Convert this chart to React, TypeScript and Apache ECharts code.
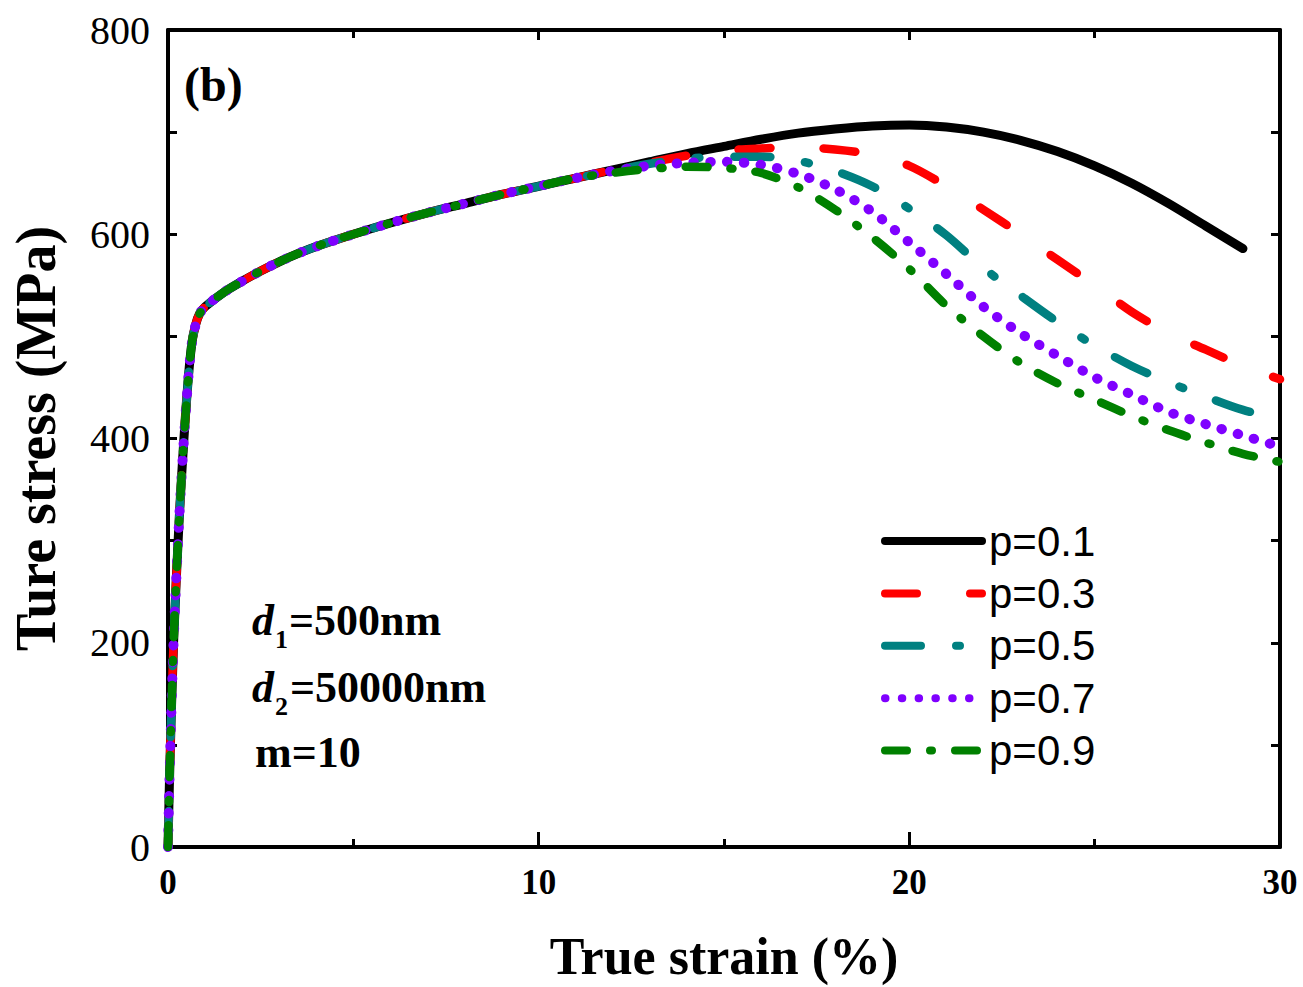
import { useEffect, useRef } from "react";
import * as echarts from "echarts";

// Shared elastic / early hardening part (strain %, stress MPa)
const strainCommon = [0, 0.05, 0.15, 0.3, 0.43, 0.55, 0.65, 0.75, 0.85, 1, 1.5, 2, 2.5, 3, 3.5, 4, 5, 6, 7, 8, 9, 10, 11];
const stressCommon = [0, 80, 200, 320, 400, 460, 495, 512, 522, 529, 543, 554, 564, 573, 581, 588, 600, 611, 621, 630, 639, 647, 655];

// Tails after 11 %
const strainTailP01 = [12, 13, 14, 15, 16, 17, 18, 19, 20, 21, 22, 23, 24, 25, 26, 27, 28, 29];
const stressTailP01 = [663, 671, 679, 686, 693, 699, 703, 706, 707, 705, 700, 692, 681, 667, 650, 630, 608, 586];

const strainTail = [12, 13, 14, 15, 16, 17, 18, 19, 20, 21, 22, 23, 24, 25, 26, 27, 28, 29, 30];
const stressTailP03 = [663, 670, 677, 682, 684, 685, 683, 678, 667, 647, 624, 600, 575, 550, 524, 503, 487, 471, 458];
const stressTailP05 = [662, 669, 674, 676, 676, 672, 662, 647, 625, 599, 567, 540, 514, 491, 471, 455, 441, 428, 419];
const stressTailP07 = [662, 667, 670, 671, 668, 659, 644, 622, 592, 561, 529, 503, 481, 460, 443, 426, 414, 403, 392];
const stressTailP09 = [660, 664, 666, 665, 660, 646, 624, 597, 566, 530, 500, 474, 454, 438, 422, 408, 396, 385, 377];

const seriesNames = ["p=0.1", "p=0.3", "p=0.5", "p=0.7", "p=0.9"];
const seriesColors = ["#000000", "#ff0000", "#008080", "#7f00ff", "#008000"];

const xTicks = [0, 10, 20, 30];
const yTicks = [0, 200, 400, 600, 800];

function build(tx: number[], ty: number[]) {
  const d: number[][] = [];
  for (let i = 0; i < strainCommon.length; i++) d.push([strainCommon[i], stressCommon[i]]);
  for (let i = 0; i < tx.length; i++) d.push([tx[i], ty[i]]);
  return d;
}

const serif = "Liberation Serif";

export default function App() {
  const ref = useRef<HTMLDivElement>(null);
  useEffect(() => {
    const chart = echarts.init(ref.current!, null, { renderer: "svg" });
    const datasets = [
      build(strainTailP01, stressTailP01),
      build(strainTail, stressTailP03),
      build(strainTail, stressTailP05),
      build(strainTail, stressTailP07),
      build(strainTail, stressTailP09),
    ];
    const dashes: any[] = ["solid", [32, 53], [36, 35, 4, 35], [0.5, 16.3], [22, 23, 2, 23]];
    const widths = [9, 8.5, 8.5, 10, 8.5];
    const frameLine = { show: true, onZero: false, lineStyle: { color: "#000", width: 4 } };
    const tickStyle = { color: "#000", width: 3 };
    const option: any = {
      animation: false,
      backgroundColor: "#fff",
      grid: { left: 167, right: 23, top: 30, bottom: 139, containLabel: false },
      xAxis: [
        {
          type: "value",
          min: xTicks[0],
          max: xTicks[xTicks.length - 1],
          interval: 10,
          position: "bottom",
          axisLine: frameLine,
          axisTick: { show: true, inside: true, length: 15, lineStyle: tickStyle },
          minorTick: { show: true, splitNumber: 2, length: 8, lineStyle: tickStyle },
          splitLine: { show: false },
          axisLabel: { fontFamily: serif, fontWeight: "bold", fontSize: 35, color: "#000", margin: 18 },
          name: "True strain (%)",
          nameLocation: "middle",
          nameGap: 83,
          nameTextStyle: { fontFamily: serif, fontWeight: "bold", fontSize: 52, lineHeight: 52, color: "#000" },
        },
        {
          type: "value",
          min: xTicks[0],
          max: xTicks[xTicks.length - 1],
          interval: 10,
          position: "top",
          axisLine: frameLine,
          axisTick: { show: true, inside: true, length: 10, lineStyle: tickStyle },
          minorTick: { show: true, splitNumber: 2, length: 8, lineStyle: tickStyle },
          splitLine: { show: false },
          axisLabel: { show: false },
        },
      ],
      yAxis: [
        {
          type: "value",
          min: yTicks[0],
          max: yTicks[yTicks.length - 1],
          interval: 200,
          position: "left",
          axisLine: frameLine,
          axisTick: { show: true, inside: true, length: 9, lineStyle: tickStyle },
          minorTick: { show: true, splitNumber: 2, length: 9, lineStyle: tickStyle },
          splitLine: { show: false },
          axisLabel: { fontFamily: serif, fontSize: 40, color: "#000", margin: 18 },
          name: "Ture stress (MPa)",
          nameLocation: "middle",
          nameGap: 104,
          nameTextStyle: { fontFamily: serif, fontWeight: "bold", fontSize: 56, lineHeight: 56, color: "#000" },
        },
        {
          type: "value",
          min: yTicks[0],
          max: yTicks[yTicks.length - 1],
          interval: 200,
          position: "right",
          axisLine: frameLine,
          axisTick: { show: true, inside: true, length: 9, lineStyle: tickStyle },
          minorTick: { show: true, splitNumber: 2, length: 9, lineStyle: tickStyle },
          splitLine: { show: false },
          axisLabel: { show: false },
        },
      ],
      legend: {
        show: true,
        orient: "vertical",
        left: 881,
        top: 520,
        padding: 0,
        itemWidth: 97,
        itemHeight: 14,
        itemGap: 10.4,
        itemStyle: { opacity: 0 },
        lineStyle: { width: 8, cap: "round" },
        textStyle: { fontFamily: "Liberation Sans", fontSize: 42, lineHeight: 40, color: "#000", padding: [0, 0, 0, 2] },
        data: seriesNames,
      },
      series: datasets.map((d, i) => ({
        name: seriesNames[i],
        type: "line",
        data: d,
        xAxisIndex: 0,
        yAxisIndex: 0,
        showSymbol: false,
        symbol: "none",
        smooth: 0.3,
        lineStyle: { color: seriesColors[i], width: widths[i], type: dashes[i], cap: "round", join: "round" },
        itemStyle: { color: seriesColors[i] },
        z: 2 + i,
      })),
      graphic: [
        { type: "text", left: 184, top: 60, style: { text: "(b)", font: `bold 48px "${serif}"`, fill: "#000" } },
        { type: "text", x: 252, y: 620, style: { text: "d", font: `italic bold 44px "${serif}"`, fill: "#000", verticalAlign: "middle" } },
        { type: "text", x: 275, y: 639, style: { text: "1", font: `bold 26px "${serif}"`, fill: "#000", verticalAlign: "middle" } },
        { type: "text", x: 289, y: 620, style: { text: "=500nm", font: `bold 44px "${serif}"`, fill: "#000", verticalAlign: "middle" } },
        { type: "text", x: 252, y: 687, style: { text: "d", font: `italic bold 44px "${serif}"`, fill: "#000", verticalAlign: "middle" } },
        { type: "text", x: 275, y: 706, style: { text: "2", font: `bold 26px "${serif}"`, fill: "#000", verticalAlign: "middle" } },
        { type: "text", x: 290, y: 687, style: { text: "=50000nm", font: `bold 44px "${serif}"`, fill: "#000", verticalAlign: "middle" } },
        { type: "text", x: 255, y: 752, style: { text: "m=10", font: `bold 44px "${serif}"`, fill: "#000", verticalAlign: "middle" } },
      ],
    };
    chart.setOption(option);
    return () => chart.dispose();
  }, []);
  return <div ref={ref} style={{ position: "fixed", left: 0, top: 0, width: 1303, height: 987, background: "#fff" }} />;
}
